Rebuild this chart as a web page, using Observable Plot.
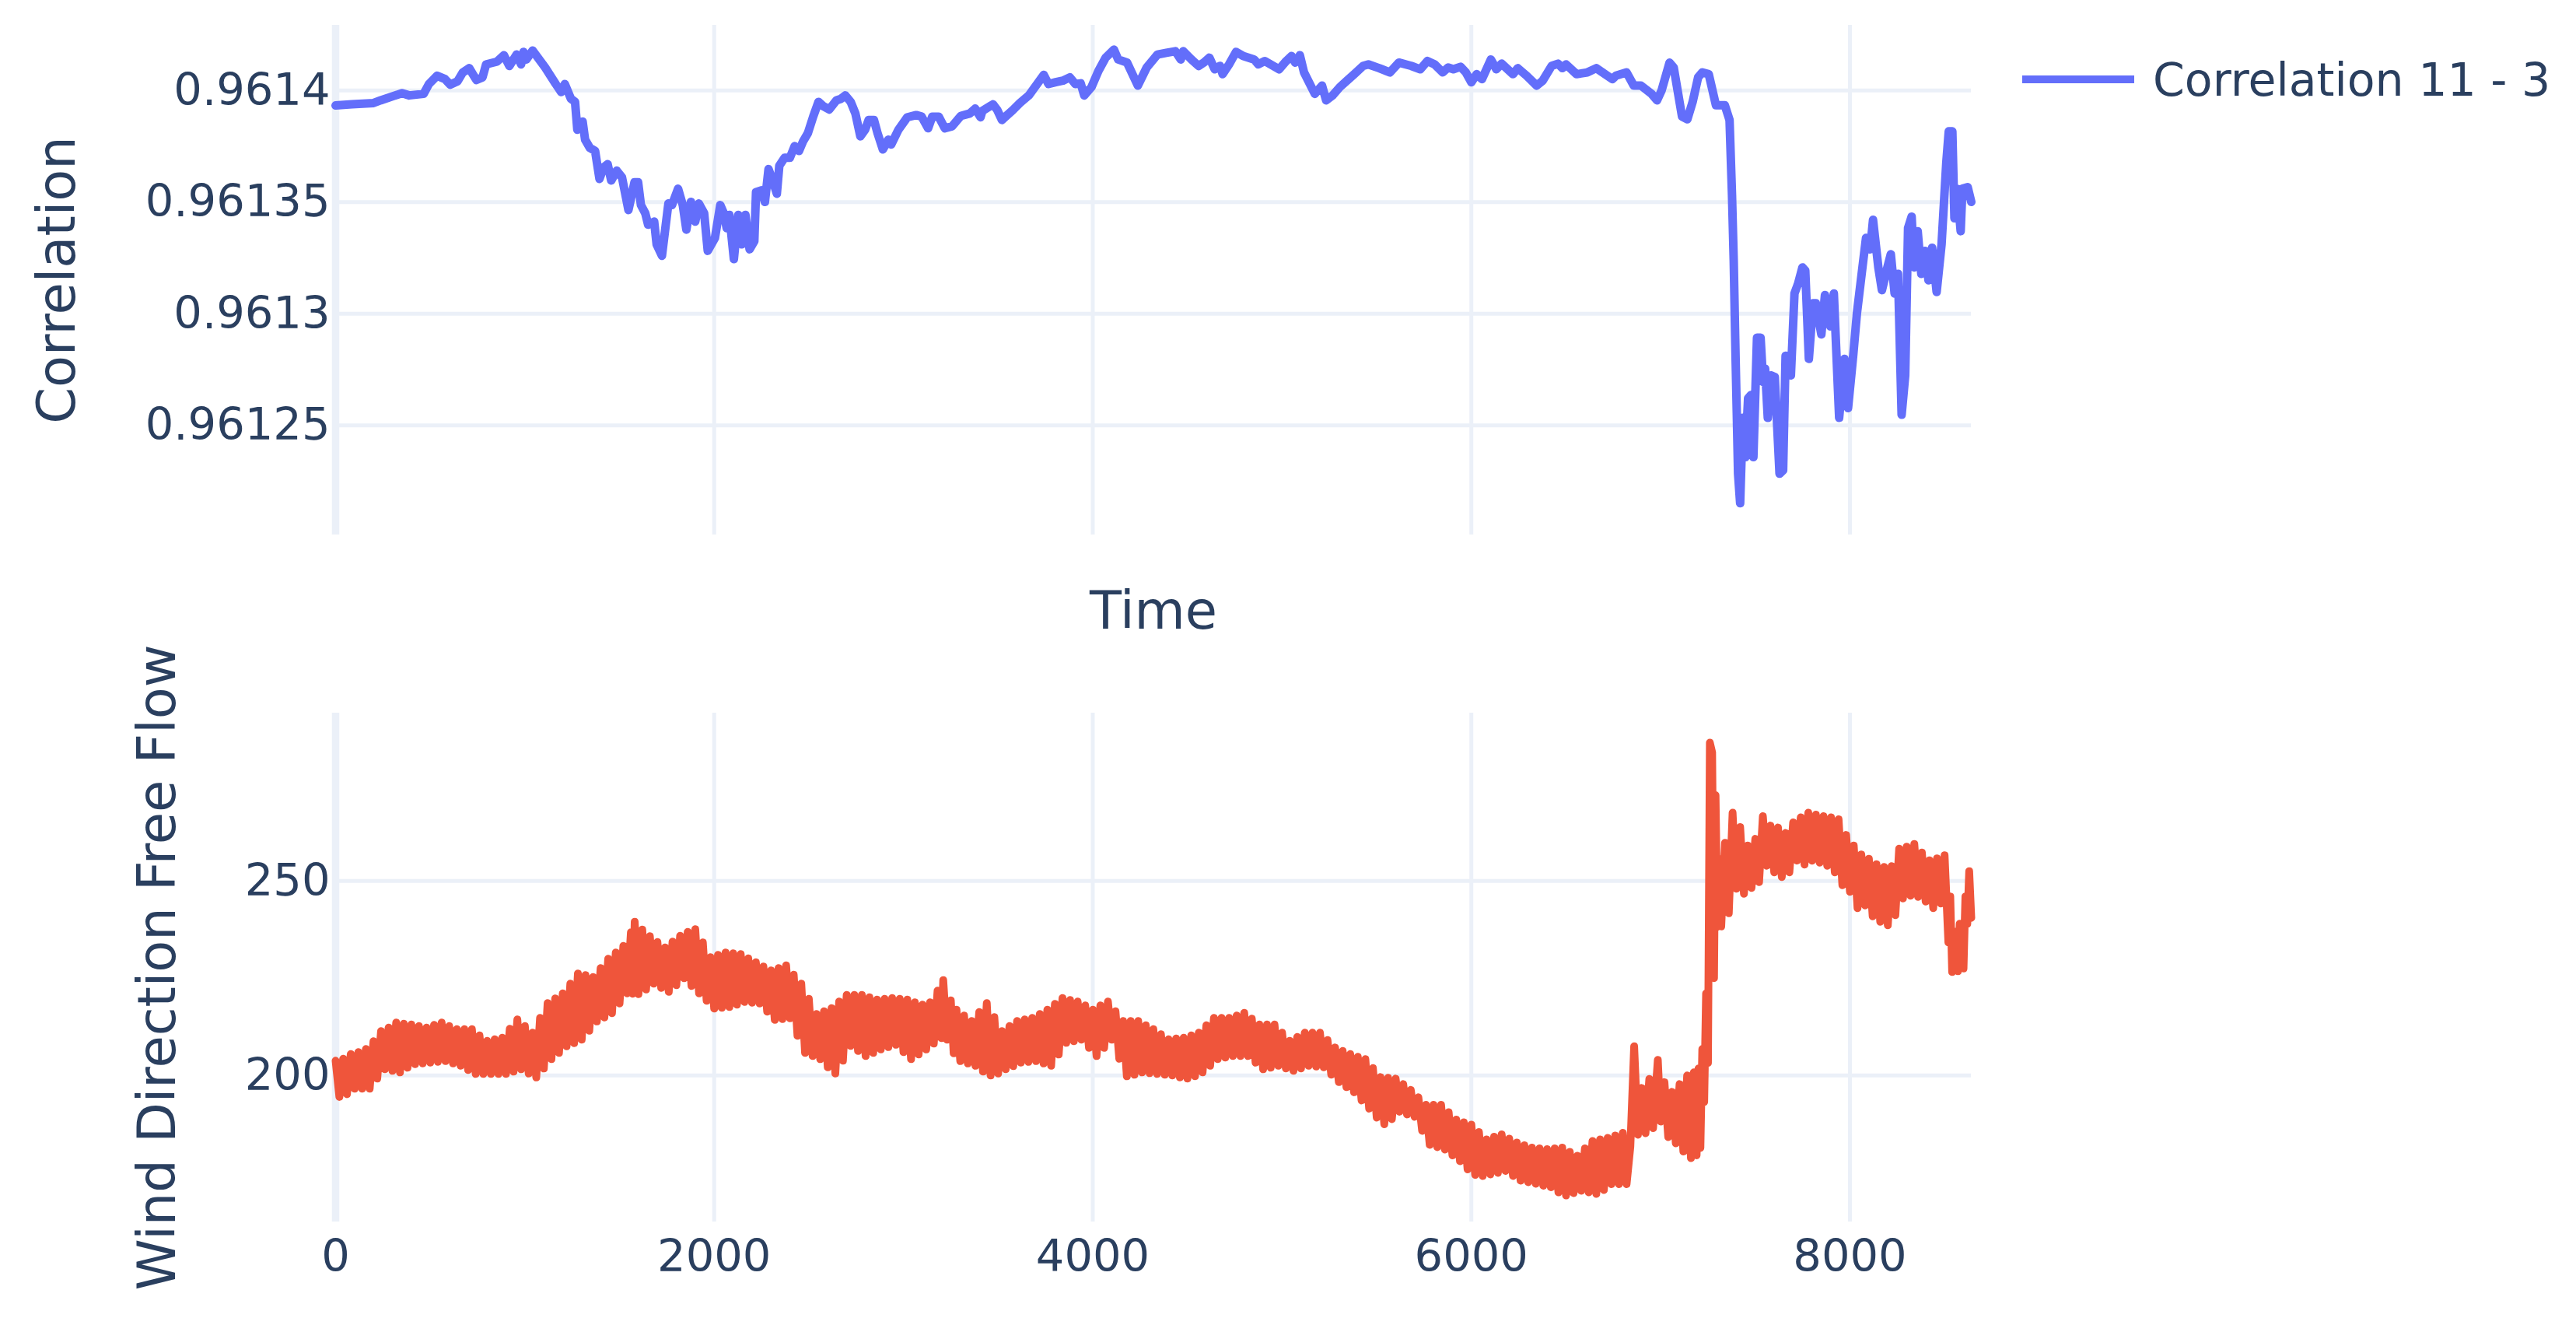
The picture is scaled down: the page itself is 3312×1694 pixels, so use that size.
<!DOCTYPE html>
<html><head><meta charset="utf-8">
<script src="https://cdn.jsdelivr.net/npm/d3@7"></script>
<script src="https://cdn.jsdelivr.net/npm/@observablehq/plot@0.6"></script>
<style>
html,body{margin:0;padding:0;background:#fff;}
#root{position:relative;width:3312px;height:1694px;overflow:hidden;font-family:"DejaVu Sans",sans-serif;color:#2a3f5f;background:#fff;}
#top{position:absolute;left:0;top:0;}
#bottom{position:absolute;left:0;top:830px;}
#legend{position:absolute;left:2600px;top:70px;display:flex;align-items:center;font-size:58.5px;white-space:nowrap;line-height:67px;}
#legend .sw{display:inline-block;width:144px;height:10px;background:#636EFA;margin-right:24px;position:relative;top:-2px;}
</style></head>
<body><div id="root"><div id="top"></div><div id="bottom"></div>
<div id="legend"><span class="sw"></span><span>Correlation 11 - 3</span></div></div>
<script>
// ---- data ----
const xTicks = [0, 2000, 4000, 6000, 8000];
const corrTicks = [0.96125, 0.9613, 0.96135, 0.9614];
const dirTicks = [200, 250];

// [Time, Correlation 11 - 3]
const correlationSeries = [[0,0.9613933],[87,0.9613938],[200,0.9613944],[238,0.9613956],[351,0.9613988],[389,0.9613978],[465,0.9613985],[493,0.9614029],[536,0.9614066],[578,0.9614051],[606,0.9614026],[644,0.9614041],[672,0.9614081],[706,0.9614100],[725,0.9614073],[744,0.9614047],[776,0.9614059],[795,0.9614117],[852,0.9614129],[889,0.9614158],[918,0.9614110],[956,0.9614161],[980,0.9614117],[993,0.9614173],[1008,0.9614139],[1041,0.9614179],[1107,0.9614103],[1163,0.9614029],[1192,0.9613993],[1211,0.9614029],[1243,0.9613963],[1265,0.9613949],[1277,0.9613824],[1296,0.9613839],[1305,0.9613861],[1318,0.9613780],[1343,0.9613743],[1371,0.9613729],[1394,0.9613604],[1415,0.9613655],[1437,0.9613670],[1456,0.9613597],[1485,0.9613641],[1513,0.9613611],[1547,0.9613465],[1579,0.9613589],[1598,0.9613589],[1613,0.9613487],[1636,0.9613450],[1651,0.9613399],[1683,0.9613413],[1696,0.9613311],[1724,0.9613260],[1758,0.9613494],[1777,0.9613487],[1809,0.9613560],[1834,0.9613487],[1853,0.9613377],[1877,0.9613501],[1900,0.9613413],[1919,0.9613494],[1947,0.9613450],[1966,0.9613282],[2004,0.9613340],[2032,0.9613487],[2051,0.9613450],[2066,0.9613384],[2080,0.9613443],[2104,0.9613245],[2127,0.9613443],[2146,0.9613311],[2165,0.9613443],[2187,0.9613289],[2212,0.9613325],[2221,0.9613545],[2249,0.9613553],[2268,0.9613501],[2287,0.9613648],[2312,0.9613589],[2331,0.9613538],[2344,0.9613663],[2372,0.9613699],[2400,0.9613699],[2425,0.9613751],[2448,0.9613729],[2470,0.9613773],[2495,0.9613809],[2523,0.9613883],[2551,0.9613949],[2576,0.9613930],[2608,0.9613915],[2646,0.9613956],[2670,0.9613963],[2693,0.9613978],[2721,0.9613949],[2746,0.9613897],[2772,0.9613795],[2797,0.9613824],[2816,0.9613868],[2844,0.9613868],[2863,0.9613809],[2891,0.9613736],[2920,0.9613780],[2935,0.9613758],[2973,0.9613824],[3020,0.9613880],[3067,0.9613890],[3096,0.9613883],[3130,0.9613831],[3152,0.9613883],[3186,0.9613883],[3218,0.9613831],[3256,0.9613839],[3303,0.9613886],[3350,0.9613897],[3379,0.9613919],[3407,0.9613880],[3417,0.9613909],[3473,0.9613938],[3496,0.9613912],[3520,0.9613868],[3539,0.9613883],[3577,0.9613912],[3615,0.9613944],[3662,0.9613978],[3700,0.9614022],[3741,0.9614070],[3766,0.9614029],[3804,0.9614037],[3842,0.9614044],[3879,0.9614059],[3908,0.9614029],[3936,0.9614032],[3955,0.9613978],[3993,0.9614015],[4030,0.9614088],[4068,0.9614147],[4112,0.9614183],[4134,0.9614139],[4181,0.9614125],[4238,0.9614022],[4285,0.9614103],[4342,0.9614161],[4389,0.9614169],[4436,0.9614176],[4465,0.9614139],[4478,0.9614176],[4521,0.9614139],[4559,0.9614110],[4587,0.9614125],[4616,0.9614147],[4644,0.9614095],[4672,0.9614110],[4686,0.9614073],[4720,0.9614117],[4757,0.9614173],[4795,0.9614154],[4852,0.9614139],[4875,0.9614117],[4909,0.9614132],[4984,0.9614095],[5022,0.9614132],[5050,0.9614154],[5069,0.9614125],[5094,0.9614158],[5116,0.9614081],[5173,0.9613985],[5211,0.9614022],[5233,0.9613956],[5267,0.9613978],[5305,0.9614015],[5343,0.9614044],[5381,0.9614073],[5428,0.9614110],[5456,0.9614117],[5513,0.9614100],[5570,0.9614081],[5617,0.9614125],[5683,0.9614110],[5730,0.9614095],[5768,0.9614132],[5806,0.9614117],[5849,0.9614081],[5877,0.9614103],[5905,0.9614095],[5943,0.9614106],[5971,0.9614081],[6000,0.9614037],[6028,0.9614073],[6056,0.9614051],[6103,0.9614139],[6132,0.9614095],[6160,0.9614120],[6220,0.9614073],[6245,0.9614100],[6292,0.9614066],[6345,0.9614022],[6377,0.9614044],[6424,0.9614110],[6458,0.9614120],[6481,0.9614100],[6500,0.9614117],[6556,0.9614073],[6613,0.9614081],[6660,0.9614100],[6745,0.9614051],[6764,0.9614066],[6820,0.9614081],[6858,0.9614022],[6896,0.9614022],[6952,0.9613985],[6981,0.9613956],[7005,0.9614000],[7047,0.9614125],[7069,0.9614103],[7113,0.9613883],[7141,0.9613871],[7169,0.9613949],[7198,0.9614059],[7220,0.9614081],[7254,0.9614073],[7292,0.9613934],[7339,0.9613934],[7364,0.9613868],[7377,0.9613531],[7386,0.9613238],[7396,0.9612798],[7409,0.9612284],[7420,0.9612152],[7434,0.9612534],[7447,0.9612358],[7462,0.9612622],[7477,0.9612636],[7490,0.9612358],[7509,0.9612893],[7528,0.9612893],[7541,0.9612695],[7552,0.9612754],[7566,0.9612534],[7584,0.9612724],[7603,0.9612717],[7628,0.9612284],[7647,0.9612299],[7660,0.9612812],[7688,0.9612724],[7707,0.9613091],[7726,0.9613135],[7749,0.9613208],[7764,0.9613194],[7783,0.9612798],[7805,0.9613047],[7820,0.9613047],[7849,0.9612908],[7868,0.9613084],[7896,0.9612944],[7915,0.9613091],[7943,0.9612534],[7971,0.9612798],[7990,0.9612578],[8018,0.9612820],[8037,0.9613003],[8066,0.9613208],[8085,0.9613340],[8107,0.9613289],[8122,0.9613421],[8150,0.9613208],[8169,0.9613106],[8198,0.9613208],[8216,0.9613267],[8236,0.9613091],[8254,0.9613179],[8273,0.9612548],[8292,0.9612724],[8307,0.9613384],[8326,0.9613435],[8339,0.9613208],[8358,0.9613370],[8377,0.9613179],[8396,0.9613282],[8415,0.9613150],[8434,0.9613296],[8458,0.9613098],[8484,0.9613311],[8509,0.9613677],[8522,0.9613817],[8541,0.9613817],[8552,0.9613428],[8566,0.9613560],[8585,0.9613370],[8594,0.9613560],[8622,0.9613567],[8641,0.9613501]];

// [Time, Wind Direction Free Flow] (the noisy trace, read as alternating upper / lower edges)
const windSeries = [[0,203.8],[20,194.5],[40,204.3],[60,195.2],[80,205.5],[100,196.6],[120,206.0],[140,196.6],[160,206.8],[180,196.6],[200,208.8],[220,199.2],[240,211.4],[260,201.6],[280,212.3],[300,201.2],[320,213.6],[340,200.8],[360,213.3],[380,202.0],[400,213.1],[420,202.9],[440,212.7],[460,203.1],[480,212.3],[500,203.3],[520,213.0],[540,203.5],[560,213.6],[580,203.7],[600,212.7],[620,203.1],[640,211.9],[660,202.5],[680,211.9],[700,201.4],[720,211.9],[740,200.4],[760,210.3],[780,200.4],[800,208.9],[820,200.4],[840,209.3],[860,200.4],[880,209.7],[900,200.4],[920,212.0],[940,201.0],[960,214.4],[980,201.6],[1000,212.7],[1020,200.5],[1040,211.0],[1060,199.5],[1080,214.8],[1100,201.8],[1120,218.6],[1140,204.2],[1160,219.8],[1180,205.8],[1200,221.1],[1220,207.5],[1240,223.6],[1260,208.3],[1280,226.2],[1300,209.2],[1320,225.8],[1340,211.5],[1360,225.3],[1380,213.9],[1400,227.6],[1420,214.9],[1440,230.0],[1460,216.0],[1480,231.6],[1500,218.5],[1520,233.3],[1540,221.1],[1560,236.8],[1570,221.0],[1580,239.5],[1600,220.9],[1620,237.5],[1640,222.1],[1660,235.8],[1680,223.6],[1700,234.3],[1720,222.5],[1740,232.9],[1760,221.5],[1780,234.4],[1800,223.2],[1820,235.9],[1840,225.0],[1860,236.9],[1880,223.0],[1900,237.6],[1920,221.1],[1940,234.2],[1960,219.2],[1980,230.4],[2000,217.2],[2020,231.0],[2040,217.4],[2060,231.6],[2080,217.6],[2100,231.4],[2120,218.2],[2140,231.2],[2160,218.9],[2180,230.1],[2200,218.7],[2220,229.1],[2240,218.5],[2260,228.0],[2280,216.4],[2300,227.0],[2320,214.3],[2340,227.6],[2360,214.5],[2380,228.3],[2400,214.7],[2420,225.9],[2440,210.2],[2460,223.6],[2480,205.8],[2500,219.7],[2520,205.0],[2540,215.8],[2560,204.2],[2580,216.5],[2600,202.1],[2620,217.3],[2640,200.5],[2660,219.0],[2680,203.8],[2700,220.7],[2720,207.6],[2740,220.7],[2760,206.3],[2780,220.7],[2800,205.0],[2820,220.1],[2840,205.8],[2860,219.5],[2880,206.7],[2900,219.7],[2920,207.3],[2940,219.9],[2960,207.9],[2980,219.7],[3000,206.0],[3020,219.5],[3040,204.2],[3060,218.8],[3080,205.4],[3100,218.2],[3120,206.7],[3140,218.8],[3160,208.2],[3180,221.8],[3200,209.6],[3210,224.5],[3230,209.2],[3250,219.3],[3265,205.7],[3280,216.9],[3300,203.7],[3320,215.4],[3340,203.1],[3360,214.0],[3380,202.5],[3400,216.3],[3420,201.0],[3440,218.6],[3460,200.0],[3480,215.0],[3500,200.5],[3520,211.4],[3540,201.6],[3560,212.7],[3580,202.4],[3600,214.0],[3620,203.3],[3640,214.4],[3660,203.5],[3680,214.8],[3700,203.7],[3720,215.8],[3740,203.1],[3760,216.9],[3780,202.5],[3800,218.4],[3820,205.4],[3840,219.9],[3860,208.4],[3880,219.4],[3900,208.8],[3920,219.0],[3940,209.2],[3960,218.0],[3980,207.1],[4000,216.9],[4020,205.0],[4040,218.0],[4060,207.1],[4080,219.0],[4100,209.2],[4120,216.5],[4140,204.3],[4160,214.0],[4180,199.8],[4200,214.0],[4220,200.2],[4240,214.0],[4260,200.8],[4280,212.9],[4300,200.6],[4320,211.9],[4340,200.4],[4360,210.6],[4380,200.2],[4400,209.3],[4420,200.0],[4440,209.5],[4460,199.5],[4480,209.7],[4500,199.2],[4520,210.3],[4540,199.8],[4560,211.0],[4580,200.8],[4600,212.9],[4620,202.5],[4640,214.8],[4660,204.2],[4680,214.8],[4700,204.6],[4720,214.8],[4740,205.0],[4760,215.4],[4780,205.0],[4800,216.1],[4820,205.0],[4840,214.6],[4860,203.3],[4880,213.1],[4900,201.6],[4920,213.1],[4940,202.0],[4960,213.1],[4980,202.5],[5000,211.0],[5020,201.8],[5040,208.9],[5060,201.2],[5080,209.9],[5100,201.8],[5120,211.0],[5140,202.5],[5160,211.0],[5180,202.3],[5200,211.0],[5220,202.1],[5240,209.1],[5260,200.2],[5280,207.2],[5300,198.3],[5320,206.3],[5340,197.0],[5360,205.5],[5380,195.7],[5400,204.8],[5420,193.6],[5440,204.2],[5460,191.5],[5480,201.9],[5500,189.2],[5520,199.6],[5540,187.5],[5560,199.4],[5580,188.8],[5600,199.2],[5620,190.7],[5640,197.8],[5660,190.0],[5680,196.3],[5700,189.4],[5720,194.4],[5740,185.8],[5760,192.5],[5780,182.2],[5800,192.5],[5820,181.6],[5840,192.5],[5860,181.0],[5880,190.6],[5900,179.5],[5920,188.7],[5940,178.0],[5960,188.0],[5980,175.9],[6000,187.4],[6020,174.5],[6040,185.5],[6060,174.2],[6080,183.6],[6100,174.6],[6120,184.3],[6140,175.0],[6160,184.9],[6180,175.5],[6200,183.8],[6220,174.2],[6240,182.8],[6260,173.0],[6280,182.1],[6300,172.6],[6320,181.5],[6340,172.2],[6360,181.3],[6380,171.7],[6400,181.1],[6420,171.3],[6440,181.3],[6460,170.0],[6480,181.5],[6500,169.2],[6520,180.4],[6540,169.8],[6560,179.4],[6580,170.4],[6600,181.3],[6620,170.0],[6640,183.2],[6660,169.6],[6680,183.6],[6700,170.6],[6720,184.0],[6740,172.1],[6760,184.6],[6780,172.1],[6800,185.3],[6820,172.1],[6840,181.8],[6860,207.5],[6880,184.8],[6900,196.8],[6920,185.2],[6940,199.1],[6960,186.5],[6985,204.0],[7000,188.2],[7020,198.3],[7040,184.2],[7060,195.8],[7080,182.6],[7100,197.8],[7120,180.5],[7140,200.0],[7160,178.8],[7175,200.8],[7190,179.5],[7200,201.8],[7210,181.4],[7220,206.8],[7230,193.2],[7240,221.1],[7250,203.2],[7260,285.5],[7272,283.0],[7282,225.0],[7290,272.0],[7300,238.2],[7310,255.7],[7320,238.3],[7340,259.8],[7360,241.7],[7380,267.5],[7400,248.0],[7420,263.8],[7440,246.7],[7460,259.1],[7480,248.2],[7500,260.8],[7520,249.7],[7540,266.6],[7560,253.9],[7580,264.2],[7600,252.2],[7620,263.7],[7640,251.0],[7660,262.3],[7680,252.2],[7700,265.0],[7720,255.2],[7740,266.3],[7760,254.2],[7780,267.5],[7800,255.2],[7820,267.0],[7840,254.7],[7860,266.6],[7880,253.9],[7900,266.3],[7920,252.2],[7940,265.8],[7960,248.9],[7980,261.8],[8000,247.2],[8020,259.1],[8040,243.0],[8060,256.8],[8080,243.7],[8100,255.7],[8120,240.9],[8140,254.3],[8160,239.5],[8180,253.6],[8200,238.6],[8220,253.8],[8240,241.2],[8260,258.3],[8280,245.5],[8300,258.8],[8320,246.2],[8340,259.5],[8360,245.9],[8380,257.3],[8400,244.7],[8420,255.3],[8440,243.0],[8460,255.8],[8480,244.2],[8500,256.6],[8520,234.2],[8530,246.0],[8540,226.6],[8560,237.0],[8570,226.8],[8580,239.0],[8600,227.5],[8610,246.0],[8620,239.0],[8630,252.5],[8641,240.5]];

// ---- styling ----
const gridColor = "#EBF0F8";
const textColor = "#2a3f5f";
const font = "DejaVu Sans";
const tickFont = 57.5;
const titleFont = 67;
const xDomain = [0, 8641];
const baseStyle = {fontFamily: font, fontSize: tickFont + "px", color: textColor, background: "transparent", overflow: "visible"};

const corrData = correlationSeries.map(([t, v]) => ({t, v}));
const windData = windSeries.map(([t, v]) => ({t, v}));

const topChart = Plot.plot({
  width: 2600, height: 830,
  marginLeft: 431, marginRight: 66, marginTop: 32, marginBottom: 143,
  style: baseStyle,
  x: {domain: xDomain, axis: null},
  y: {domain: [0.961201, 0.9614292]},
  marks: [
    Plot.gridY(corrTicks, {stroke: gridColor, strokeOpacity: 1, strokeWidth: 5}),
    Plot.gridX(xTicks.filter(d => d !== 0), {stroke: gridColor, strokeOpacity: 1, strokeWidth: 5}),
    Plot.ruleX([0], {stroke: gridColor, strokeWidth: 9.5}),
    Plot.axisY(corrTicks, {tickSize: 0, tickPadding: 7, tickFormat: d => String(d), label: null, fontSize: tickFont}),
    Plot.line(corrData, {x: "t", y: "v", stroke: "#636EFA", strokeWidth: 11, strokeLinejoin: "round"}),
    Plot.text(["Time"], {text: d => d, frameAnchor: "bottom", dy: 99, lineAnchor: "middle", textAnchor: "middle", fontSize: titleFont, fill: textColor}),
    Plot.text(["Correlation"], {text: d => d, frameAnchor: "left", dx: -357, rotate: -90, lineAnchor: "middle", textAnchor: "middle", fontSize: titleFont, fill: textColor})
  ]
});
document.getElementById("top").append(topChart);

const bottomChart = Plot.plot({
  width: 2600, height: 864,
  marginLeft: 431, marginRight: 66, marginTop: 86, marginBottom: 124,
  style: baseStyle,
  x: {domain: xDomain},
  y: {domain: [162.4, 293.1]},
  marks: [
    Plot.gridY(dirTicks, {stroke: gridColor, strokeOpacity: 1, strokeWidth: 5}),
    Plot.gridX(xTicks.filter(d => d !== 0), {stroke: gridColor, strokeOpacity: 1, strokeWidth: 5}),
    Plot.ruleX([0], {stroke: gridColor, strokeWidth: 9.5}),
    Plot.axisY(dirTicks, {tickSize: 0, tickPadding: 7, tickFormat: d => String(d), label: null, fontSize: tickFont}),
    Plot.axisX(xTicks, {tickSize: 0, tickPadding: 23, tickFormat: d => String(d), label: null, fontSize: tickFont}),
    Plot.line(windData, {x: "t", y: "v", stroke: "#EF553B", strokeWidth: 10, strokeLinejoin: "round"}),
    Plot.text(["Wind Direction Free Flow"], {text: d => d, frameAnchor: "left", dx: -228, rotate: -90, lineAnchor: "middle", textAnchor: "middle", fontSize: titleFont, fill: textColor})
  ]
});
document.getElementById("bottom").append(bottomChart);
</script>
</body></html>
